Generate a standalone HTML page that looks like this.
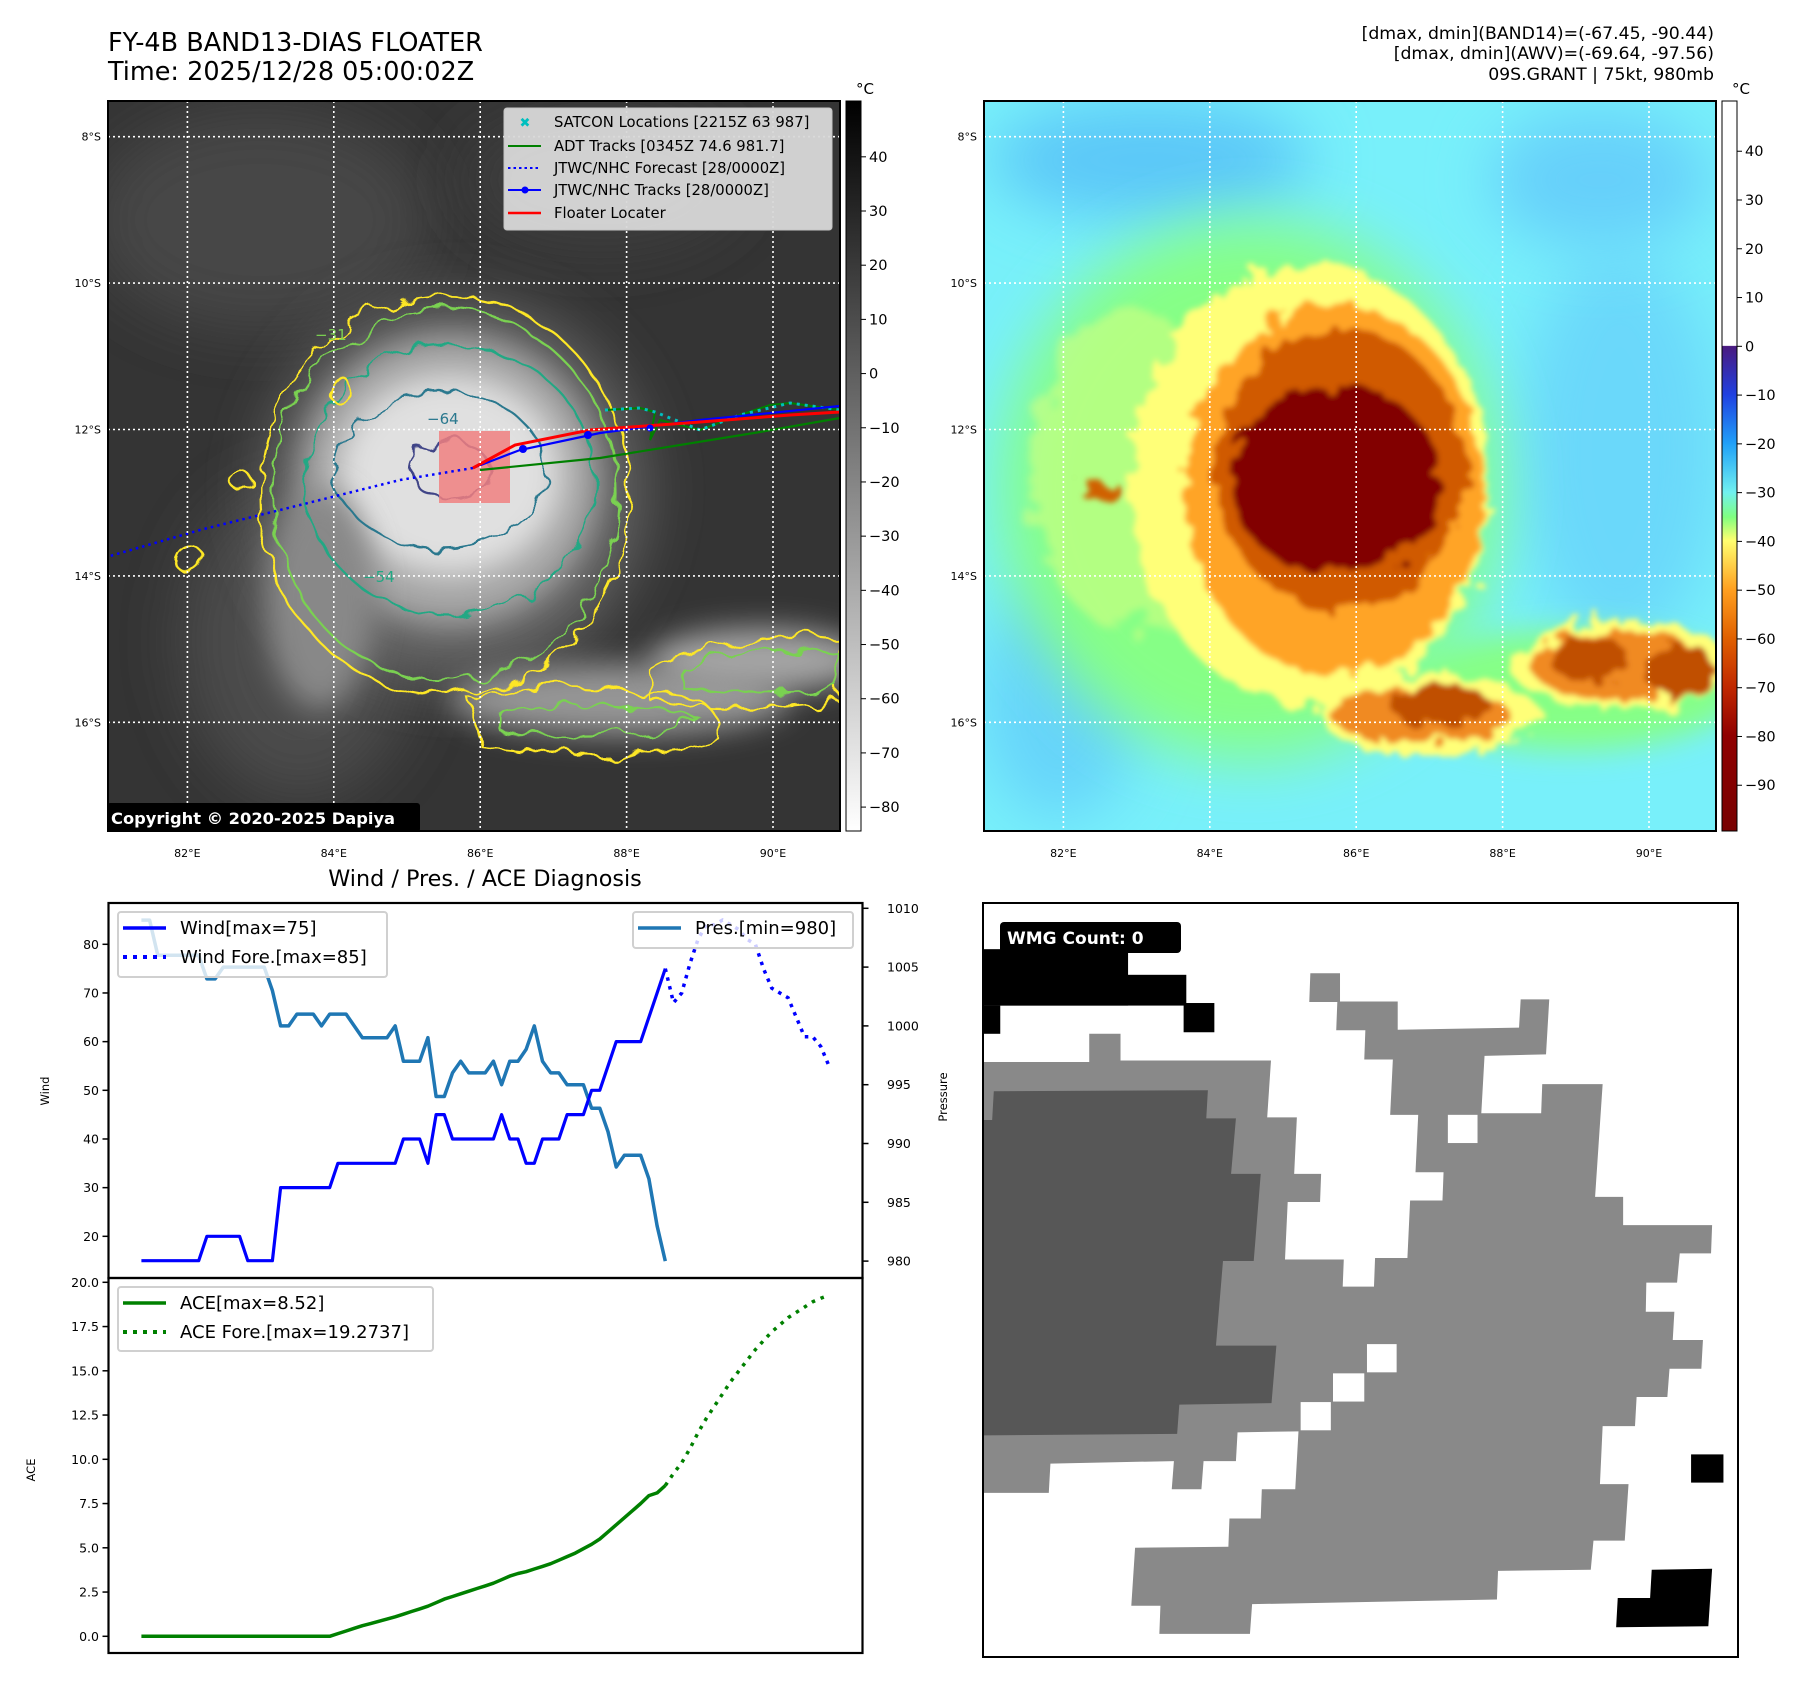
<!DOCTYPE html>
<html><head><meta charset="utf-8">
<style>
html,body{margin:0;padding:0;background:#fff;}
body{width:1801px;height:1690px;position:relative;overflow:hidden;font-family:"DejaVu Sans","Liberation Sans",sans-serif;}
svg text{font-family:"DejaVu Sans","Liberation Sans",sans-serif;}
</style></head>
<body>
<svg id="page" width="1801" height="1690" viewBox="0 0 1801 1690" xmlns="http://www.w3.org/2000/svg" style="position:absolute;left:0;top:0">
<defs>
  <clipPath id="clipL"><rect x="108" y="101" width="732" height="730"/></clipPath>
  <clipPath id="clipR"><rect x="984" y="101" width="732" height="730"/></clipPath>
  <filter id="b30" x="-50%" y="-50%" width="200%" height="200%"><feGaussianBlur stdDeviation="30"/></filter>
  <filter id="b15" x="-50%" y="-50%" width="200%" height="200%"><feGaussianBlur stdDeviation="15"/></filter>
  <filter id="b8" x="-50%" y="-50%" width="200%" height="200%"><feGaussianBlur stdDeviation="8"/></filter>
  <filter id="wig" x="-20%" y="-20%" width="140%" height="140%"><feTurbulence type="fractalNoise" baseFrequency="0.04" numOctaves="2" seed="3"/><feDisplacementMap in="SourceGraphic" scale="22"/></filter>
  <filter id="wig2" x="-20%" y="-20%" width="140%" height="140%"><feTurbulence type="fractalNoise" baseFrequency="0.05" numOctaves="2" seed="7"/><feDisplacementMap in="SourceGraphic" scale="30"/><feGaussianBlur stdDeviation="3"/></filter>
  <filter id="wig3" x="-20%" y="-20%" width="140%" height="140%"><feTurbulence type="fractalNoise" baseFrequency="0.03" numOctaves="3" seed="11"/><feDisplacementMap in="SourceGraphic" scale="60"/><feGaussianBlur stdDeviation="4"/></filter>
  <linearGradient id="cbL" x1="0" y1="0" x2="0" y2="1"><stop offset="0" stop-color="#000"/><stop offset="1" stop-color="#fff"/></linearGradient>
  <linearGradient id="cbR" x1="0" y1="0" x2="0" y2="1">
    <stop offset="0" stop-color="#fff"/><stop offset="0.335" stop-color="#fff"/>
    <stop offset="0.336" stop-color="#4a1a80"/><stop offset="0.402" stop-color="#2040e0"/>
    <stop offset="0.469" stop-color="#20a0f8"/><stop offset="0.536" stop-color="#70f0f0"/>
    <stop offset="0.57" stop-color="#80ff80"/><stop offset="0.602" stop-color="#ffff70"/>
    <stop offset="0.669" stop-color="#ffa020"/><stop offset="0.736" stop-color="#e06000"/>
    <stop offset="0.803" stop-color="#c02800"/><stop offset="0.869" stop-color="#900000"/>
    <stop offset="1" stop-color="#780000"/></linearGradient>
</defs>

<text x="108" y="51" font-size="25.5">FY-4B BAND13-DIAS FLOATER</text>
<text x="108" y="80" font-size="25.5">Time: 2025/12/28 05:00:02Z</text>
<g font-size="17.3" text-anchor="end">
  <text x="1714" y="39">[dmax, dmin](BAND14)=(-67.45, -90.44)</text>
  <text x="1714" y="59">[dmax, dmin](AWV)=(-69.64, -97.56)</text>
  <text x="1714" y="80">09S.GRANT | 75kt, 980mb</text>
</g>

<g clip-path="url(#clipL)">
  <rect x="108" y="101" width="732" height="730" fill="#343434"/>
  <ellipse cx="260" cy="220" rx="170" ry="110" fill="#464646" filter="url(#b30)"/>
  <ellipse cx="600" cy="180" rx="140" ry="70" fill="#3c3c3c" filter="url(#b30)"/>
  <ellipse cx="300" cy="640" rx="120" ry="160" fill="#4c4c4c" filter="url(#b30)"/>
  <ellipse cx="455" cy="490" rx="190" ry="190" fill="#666" filter="url(#b30)"/>
  <ellipse cx="450" cy="480" rx="150" ry="145" fill="#a6a6a6" filter="url(#b15)"/>
  <ellipse cx="450" cy="475" rx="112" ry="100" fill="#e0e0e0" filter="url(#b15)"/>
  <ellipse cx="320" cy="600" rx="55" ry="110" fill="#888" filter="url(#b15)"/>
  <ellipse cx="620" cy="700" rx="170" ry="36" fill="#959595" filter="url(#b15)"/>
  <ellipse cx="760" cy="660" rx="110" ry="32" fill="#a4a4a4" filter="url(#b15)"/>
  <g fill="none" stroke-width="2.2" filter="url(#wig)">
    <ellipse cx="445" cy="495" rx="185" ry="200" stroke="#fde725"/>
    <ellipse cx="445" cy="495" rx="172" ry="186" stroke="#7ad151"/>
    <ellipse cx="450" cy="480" rx="145" ry="135" stroke="#22a884"/>
    <ellipse cx="440" cy="470" rx="105" ry="78" stroke="#2a788e"/>
    <ellipse cx="450" cy="470" rx="40" ry="28" stroke="#414487"/>
    <path d="M470 700 C520 680 600 680 640 695 C700 690 720 705 720 740 C650 760 560 755 480 745 Z" stroke="#fde725"/>
    <path d="M650 670 C700 640 800 630 840 640 L840 700 C780 710 700 712 650 700 Z" stroke="#fde725"/>
    <path d="M500 715 C560 700 620 700 700 720 C640 740 560 740 500 730 Z" stroke="#7ad151"/>
    <path d="M680 665 C730 650 800 645 840 655 L840 690 C790 695 720 695 680 685 Z" stroke="#7ad151"/>
    <circle cx="190" cy="560" r="14" stroke="#fde725"/>
    <circle cx="240" cy="480" r="10" stroke="#fde725"/>
    <circle cx="340" cy="390" r="12" stroke="#fde725"/>
  </g>
  <g font-size="15">
    <text x="427" y="424" fill="#2a788e">−64</text>
    <text x="363" y="582" fill="#22a884">−54</text>
    <text x="315" y="340" fill="#7ad151">−31</text>
  </g>
  <rect x="439" y="431" width="71" height="72" fill="#f08080" opacity="0.85"/>
  <g fill="none">
    <path d="M473 468 L400 480 L300 505 L200 530 L110 556" stroke="#0000ff" stroke-width="2.5" stroke-dasharray="2.5 4"/>
    <polyline points="480,470 600,458 760,432 840,418" stroke="#008000" stroke-width="2.2"/>
    <polyline points="605,410 640,408 655,412 650,440 660,420 700,430 740,415 770,405 790,403 840,410" stroke="#008000" stroke-width="2"/>
    <polyline points="605,410 640,408 655,412 700,430 740,415 790,403 840,410" stroke="#00bfbf" stroke-width="3" stroke-dasharray="3 5"/>
    <polyline points="473,468 520,450 600,433 700,420 840,406" stroke="#0000ff" stroke-width="2.2"/>
    <polyline points="473,468 515,445 590,430 700,422 790,415 840,412" stroke="#ff0000" stroke-width="3"/>
    <circle cx="523" cy="449" r="4" fill="#0000ff"/><circle cx="588" cy="435" r="4" fill="#0000ff"/><circle cx="650" cy="428" r="3.5" fill="#0000ff"/>
  </g>
</g>
<g id="gridL"></g>
<rect x="108" y="101" width="732" height="730" fill="none" stroke="#000" stroke-width="2"/>
<g>
  <rect x="504" y="108" width="328" height="122" rx="3" fill="#d9d9d9" stroke="#ccc" opacity="0.95"/>
  <g font-size="14.8">
    <text x="525" y="127" font-size="13" fill="#00bfbf" font-weight="bold" text-anchor="middle">✖</text>
    <text x="554" y="127">SATCON Locations [2215Z 63 987]</text>
    <line x1="508" y1="146" x2="541" y2="146" stroke="#008000" stroke-width="2"/>
    <text x="554" y="151">ADT Tracks [0345Z 74.6 981.7]</text>
    <line x1="508" y1="168" x2="541" y2="168" stroke="#0000ff" stroke-width="2" stroke-dasharray="2.5 3"/>
    <text x="554" y="173">JTWC/NHC Forecast [28/0000Z]</text>
    <line x1="508" y1="190" x2="541" y2="190" stroke="#0000ff" stroke-width="2"/><circle cx="525" cy="190" r="3.5" fill="#0000ff"/>
    <text x="554" y="195">JTWC/NHC Tracks [28/0000Z]</text>
    <line x1="508" y1="213" x2="541" y2="213" stroke="#ff0000" stroke-width="2.5"/>
    <text x="554" y="218">Floater Locater</text>
  </g>
</g>
<g>
  <rect x="107" y="803" width="313" height="29" rx="3" fill="#000"/>
  <text x="111" y="824" font-size="16.3" font-weight="bold" fill="#fff">Copyright © 2020-2025 Dapiya</text>
</g>
<rect x="846" y="101" width="15" height="730" fill="url(#cbL)" stroke="#000" stroke-width="1"/>
<text x="856" y="94" font-size="15">°C</text>
<g id="cbLticks"></g>

<g clip-path="url(#clipR)">
  <rect x="984" y="101" width="732" height="730" fill="#78f0fa"/>
  <ellipse cx="1150" cy="160" rx="160" ry="60" fill="#5cc8f8" filter="url(#b30)"/>
  <ellipse cx="1620" cy="450" rx="100" ry="200" fill="#6ad8fa" filter="url(#b30)"/>
  <ellipse cx="1600" cy="180" rx="110" ry="70" fill="#66d0fa" filter="url(#b30)"/>
  <ellipse cx="1060" cy="700" rx="80" ry="120" fill="#66d4fa" filter="url(#b30)"/>
  <ellipse cx="1250" cy="490" rx="250" ry="270" fill="#86ff86" filter="url(#b30)"/>
  <ellipse cx="1570" cy="690" rx="170" ry="60" fill="#86ff86" filter="url(#b15)"/>
  <g filter="url(#wig3)">
    <ellipse cx="1130" cy="470" rx="100" ry="160" fill="#d8ff80" opacity="0.55"/>
  </g>
  <g filter="url(#wig2)">
    <ellipse cx="1310" cy="485" rx="180" ry="220" fill="#ffff78"/>
    <ellipse cx="1620" cy="665" rx="110" ry="45" fill="#ffff78"/>
    <ellipse cx="1430" cy="715" rx="110" ry="40" fill="#ffff78"/>
    <ellipse cx="1335" cy="490" rx="150" ry="185" fill="#ffa428"/>
    <ellipse cx="1620" cy="665" rx="90" ry="35" fill="#f08a20"/>
    <ellipse cx="1420" cy="715" rx="90" ry="28" fill="#f08a20"/>
    <ellipse cx="1340" cy="470" rx="125" ry="140" fill="#d05a00"/>
    <ellipse cx="1335" cy="480" rx="105" ry="95" fill="#820000"/>
    <ellipse cx="1590" cy="660" rx="40" ry="22" fill="#c05000"/>
    <ellipse cx="1680" cy="670" rx="35" ry="28" fill="#c05000"/>
    <ellipse cx="1440" cy="705" rx="50" ry="20" fill="#c05000"/>
    <ellipse cx="1100" cy="490" rx="22" ry="10" fill="#d06000"/>
  </g>
</g>
<g id="gridR"></g>
<rect x="984" y="101" width="732" height="730" fill="none" stroke="#000" stroke-width="2"/>
<rect x="1722" y="101" width="15" height="730" fill="url(#cbR)" stroke="#000" stroke-width="1"/>
<text x="1732" y="94" font-size="15">°C</text>
<g id="cbRticks"></g>
<g id="geoLabels" font-size="11"></g>

<text x="485" y="886" font-size="22.3" text-anchor="middle">Wind / Pres. / ACE Diagnosis</text>
<g id="chart"></g>

<g>
<svg x="983" y="903" width="755" height="754" viewBox="43 45 1400 1470" preserveAspectRatio="none">
  <rect x="43" y="45" width="1400" height="1470" fill="#fff"/>
  <g fill="#000">
    <rect x="43" y="135" width="269" height="110"/><rect x="43" y="185" width="377" height="60"/>
    <rect x="43" y="245" width="32" height="55"/><rect x="415" y="240" width="57" height="57"/>
    <rect x="1356" y="1120" width="60" height="55"/>
    <polygon points="1283,1345 1395,1343 1388,1455 1217,1457 1220,1400 1280,1400"/>
  </g>
  <polygon fill="#898989" points="43,355 240,355 240,300 298,300 298,352 577,352 570,463 625,463 620,573 670,573 668,628 608,628 603,740 712,740 710,793 768,793 770,737 830,737 835,625 895,625 897,570 845,570 850,458 798,458 803,350 750,350 752,293 698,293 700,238 648,238 650,182 705,182 705,237 812,237 812,292 1037,288 1040,233 1093,233 1087,340 973,343 967,455 1078,455 1080,398 1192,398 1178,618 1230,618 1230,673 1395,673 1393,728 1335,728 1330,785 1273,785 1272,842 1325,842 1322,897 1378,897 1375,953 1316,953 1312,1008 1255,1008 1252,1065 1192,1065 1187,1178 1240,1178 1233,1288 1175,1288 1170,1345 998,1347 996,1403 542,1412 538,1470 370,1470 372,1415 318,1415 325,1302 498,1300 500,1245 558,1245 560,1188 622,1188 628,1075 515,1077 512,1133 452,1133 448,1188 393,1188 397,1133 168,1138 165,1195 43,1195"/>
  <g fill="#fff">
    <rect x="905" y="458" width="55" height="55"/><rect x="755" y="905" width="55" height="55"/>
    <rect x="692" y="962" width="58" height="55"/><rect x="632" y="1018" width="56" height="55"/>
  </g>
  <polygon fill="#575757" points="63,412 460,410 457,465 512,465 503,573 558,573 545,743 488,743 475,908 587,908 578,1020 407,1023 403,1080 43,1083 43,468 60,468"/>
</svg>
<rect x="983" y="903" width="755" height="754" fill="none" stroke="#000" stroke-width="2"/>
<rect x="1000" y="922" width="181" height="31" rx="4" fill="#000"/>
<text x="1007" y="944" font-size="17" font-weight="bold" fill="#fff">WMG Count: 0</text>
</g>
</svg>

<script>
const windObs = [15,15,15,15,15,15,15,15,20,20,20,20,20,15,15,15,15,30,30,30,30,30,30,30,35,35,35,35,35,35,35,35,40,40,40,35,45,45,40,40,40,40,40,40,45,40,40,35,35,40,40,40,45,45,45,50,50,55,60,60,60,60,65,70,75];
const windFore = [75,68,70,76,81,84,84,85,84,83,81,80,75,71,70,69,65,61,61,59,55];
const presObs = [1009,1009,1006,1006,1006,1006,1006,1006,1004,1004,1005,1005,1005,1005,1005,1005,1003,1000,1000,1001,1001,1001,1000,1001,1001,1001,1000,999,999,999,999,1000,997,997,997,999,994,994,996,997,996,996,996,997,995,997,997,998,1000,997,996,996,995,995,995,993,993,991,988,989,989,989,987,983,980];
const aceObs = [0,0,0,0,0,0,0,0,0,0,0,0,0,0,0,0,0,0,0,0,0,0,0,0,0.15,0.3,0.45,0.6,0.72,0.85,0.97,1.1,1.25,1.4,1.55,1.7,1.9,2.1,2.25,2.4,2.55,2.7,2.85,3.0,3.2,3.4,3.55,3.65,3.8,3.95,4.1,4.3,4.5,4.7,4.95,5.2,5.5,5.9,6.3,6.7,7.1,7.5,7.95,8.1,8.52];
const aceFore = [8.52,9.2,9.8,10.6,11.5,12.3,13.0,13.7,14.4,15.0,15.6,16.2,16.7,17.2,17.6,18.0,18.3,18.6,18.9,19.1,19.27];
const windTicks = [20,30,40,50,60,70,80];
const presTicks = [980,985,990,995,1000,1005,1010];
const aceTicks = [0,2.5,5,7.5,10,12.5,15,17.5,20];
const cbLTicks = [40,30,20,10,0,-10,-20,-30,-40,-50,-60,-70,-80];
const cbRTicks = [40,30,20,10,0,-10,-20,-30,-40,-50,-60,-70,-80,-90];
const lonTicks = [82,84,86,88,90];
const latTicks = [8,10,12,14,16];

const NS='http://www.w3.org/2000/svg';
function mk(tag, attrs, parent){const e=document.createElementNS(NS,tag);for(const k in attrs)e.setAttribute(k,attrs[k]);parent.appendChild(e);return e;}
const fore0 = windObs.length-1;
const xi = i => 141.4 + i*8.186;
const yW = v => 944.3 + (80-v)*4.867;
const yP = p => 908.3 + (1010-p)*11.76;
const yA = a => 1636.3 - a*17.7;
const lonX = (lon, off) => 187.4 + (lon-82)*73.2 + off;
const latY = lat => 136.7 + (lat-8)*73.2;
const cbLY = v => 101 + (50.3-v)*5.419;
const cbRY = v => 101 + (50.3-v)*4.877;

const chart = document.getElementById('chart');
function ptsStr(arr, yf, start){return arr.map((v,i)=>xi(start+i).toFixed(1)+','+yf(v).toFixed(1)).join(' ');}

let f1 = mk('rect',{x:108.5,y:903,width:754,height:375,fill:'none',stroke:'#000','stroke-width':2.2},chart);


let f2 = mk('rect',{x:108.5,y:1278,width:754,height:375,fill:'none',stroke:'#000','stroke-width':2.2},chart);



windTicks.forEach(v=>{const y=yW(v);mk('line',{x1:102.5,x2:108.5,y1:y,y2:y,stroke:'#000','stroke-width':1.5},chart);
  const t=mk('text',{x:99,y:y+4.5,'font-size':12.5,'text-anchor':'end'},chart);t.textContent=v;
  
  });
presTicks.forEach(v=>{const y=yP(v);mk('line',{x1:862.5,x2:868.5,y1:y,y2:y,stroke:'#000','stroke-width':1.5},chart);
  const t=mk('text',{x:887,y:y+4.5,'font-size':12.5},chart);t.textContent=v;
  
  });
aceTicks.forEach(v=>{const y=yA(v);mk('line',{x1:102.5,x2:108.5,y1:y,y2:y,stroke:'#000','stroke-width':1.5},chart);
  const t=mk('text',{x:99,y:y+4.5,'font-size':12.5,'text-anchor':'end'},chart);t.textContent=v.toFixed(1);
  
  });
[['Wind',49,1091],['Pressure',947,1097],['ACE',35,1470]].forEach(([s,x,y])=>{
  const t=mk('text',{x:x,y:y,'font-size':11.5,'text-anchor':'middle',transform:`rotate(-90 ${x} ${y})`},chart);t.textContent=s;
  
  });

let l;
l=mk('polyline',{points:ptsStr(presObs,yP,0),fill:'none',stroke:'#1f77b4','stroke-width':3.5,'stroke-linejoin':'round'},chart);


l=mk('polyline',{points:ptsStr(windObs,yW,0),fill:'none',stroke:'#0000ff','stroke-width':3.2,'stroke-linejoin':'round'},chart);


l=mk('polyline',{points:ptsStr(windFore,yW,fore0),fill:'none',stroke:'#0000ff','stroke-width':3.5,'stroke-dasharray':'3.5 5.5'},chart);


l=mk('polyline',{points:ptsStr(aceObs,yA,0),fill:'none',stroke:'#008000','stroke-width':3.5,'stroke-linejoin':'round'},chart);


l=mk('polyline',{points:ptsStr(aceFore,yA,fore0),fill:'none',stroke:'#008000','stroke-width':3.5,'stroke-dasharray':'3.5 6'},chart);



function legend(x,y,w,h,items,name){
  const g=mk('g',{},chart);
  
  
  mk('rect',{x:x,y:y,width:w,height:h,rx:3,fill:'#fff','fill-opacity':0.8,stroke:'#d0d0d0','stroke-width':2},g);
  items.forEach((it,k)=>{const yy=y+16+k*29;
    const a={x1:x+5,x2:x+48,y1:yy,y2:yy,stroke:it[1],'stroke-width':it[2]?4:3.5};if(it[2])a['stroke-dasharray']='4 6';
    mk('line',a,g);const t=mk('text',{x:x+62,y:yy+6,'font-size':18},g);t.textContent=it[0];});
}
legend(118,912,269,65,[['Wind[max=75]','#0000ff',0],['Wind Fore.[max=85]','#0000ff',1]],'wind-legend');
legend(633,912,220,36,[['Pres.[min=980]','#1f77b4',0]],'pressure-legend');
legend(118,1287,315,64,[['ACE[max=8.52]','#008000',0],['ACE Fore.[max=19.2737]','#008000',1]],'ace-legend');

[['gridL',0],['gridR',876]].forEach(([id,off])=>{
  const g=document.getElementById(id);
  lonTicks.forEach(lon=>{const x=lonX(lon,off);mk('line',{x1:x,x2:x,y1:101,y2:831,stroke:'#fff','stroke-width':1.6,'stroke-dasharray':'2 3'},g);});
  latTicks.forEach(lat=>{const y=latY(lat);mk('line',{x1:108+off,x2:840+off,y1:y,y2:y,stroke:'#fff','stroke-width':1.6,'stroke-dasharray':'2 3'},g);});
});
const gl=document.getElementById('geoLabels');
[0,876].forEach(off=>{
  lonTicks.forEach(lon=>{const t=mk('text',{x:lonX(lon,off),y:857,'text-anchor':'middle'},gl);t.textContent=lon+'°E';
    
    });
  latTicks.forEach(lat=>{const t=mk('text',{x:101+off,y:latY(lat)+4,'text-anchor':'end'},gl);t.textContent=lat+'°S';
    
    });
});
const cl=document.getElementById('cbLticks');
cbLTicks.forEach(v=>{const y=cbLY(v);mk('line',{x1:861,x2:866,y1:y,y2:y,stroke:'#000'},cl);
  const t=mk('text',{x:869,y:y+5,'font-size':14.5},cl);t.textContent=(v<0?'−'+(-v):v);
  
  });
const cr=document.getElementById('cbRticks');
cbRTicks.forEach(v=>{const y=cbRY(v);mk('line',{x1:1737,x2:1742,y1:y,y2:y,stroke:'#000'},cr);
  const t=mk('text',{x:1745,y:y+5,'font-size':14.5},cr);t.textContent=(v<0?'−'+(-v):v);
  
  });
</script>
</body></html>
